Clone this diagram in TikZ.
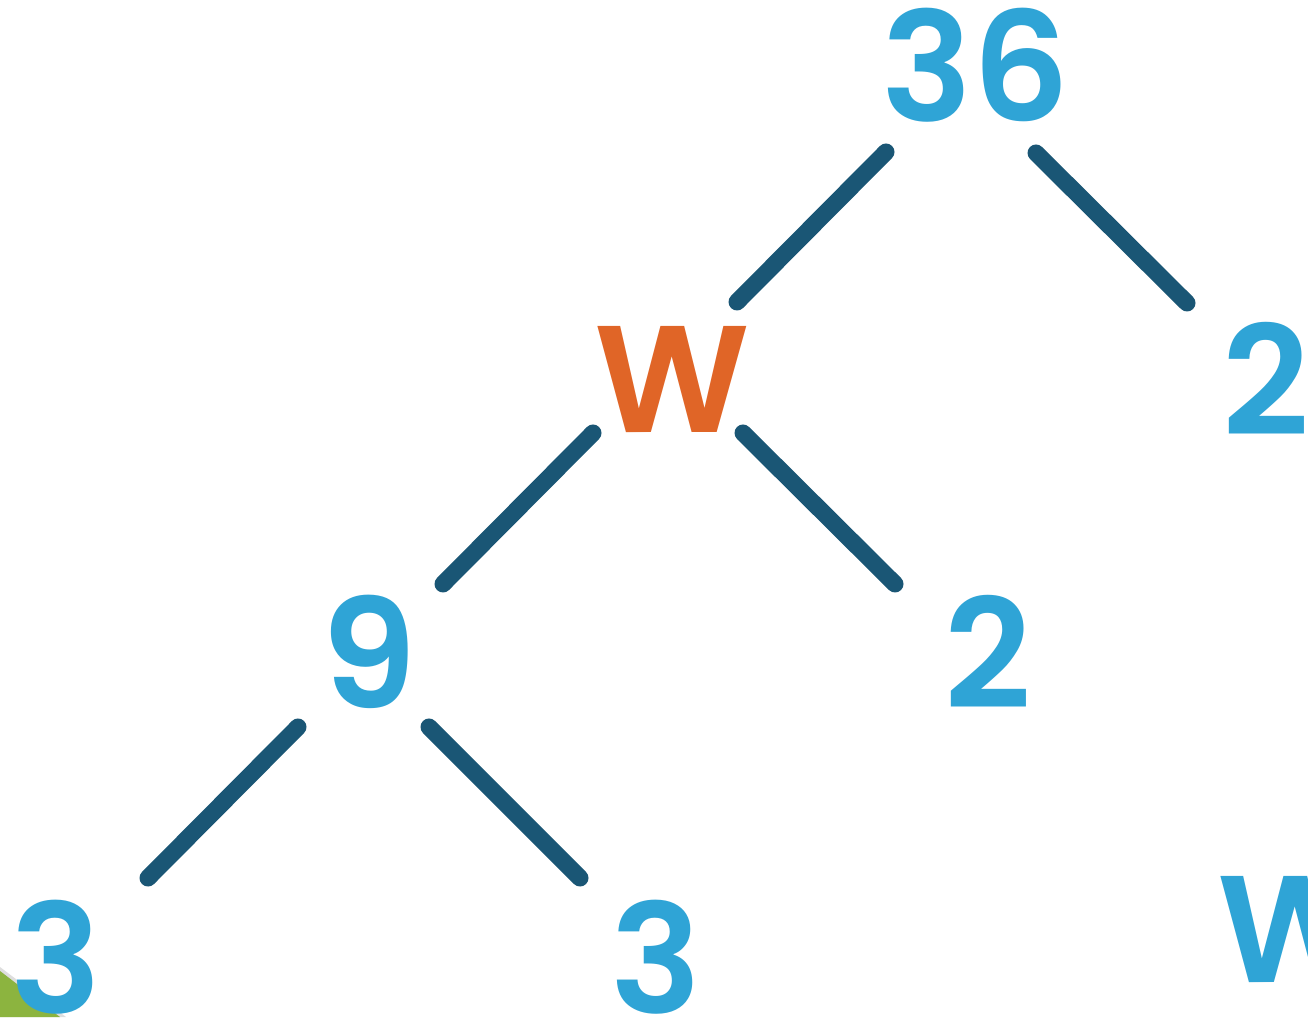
\documentclass[tikz,border=0pt]{standalone}
\usepackage{fontspec}
\setmainfont{Poppins}[BoldFont={Poppins SemiBold}]
\usetikzlibrary{calc}
\definecolor{numblue}{HTML}{2FA4D6}
\definecolor{worange}{HTML}{E06527}
\definecolor{edgeteal}{HTML}{1A5675}
\definecolor{ribbon}{HTML}{8CB43F}
\tikzset{
  lbl/.style={inner sep=0pt, font=\fontsize{152}{152}\selectfont\bfseries, text=numblue},
  wlbl/.style={lbl, text=worange},
  edge/.style={draw=edgeteal, line width=17pt, line cap=round}
}
\begin{document}
\begin{tikzpicture}[x=1pt,y=1pt]
\useasboundingbox (0,0) rectangle (1308,1017);
\clip (0,0) rectangle (1308,1017);
\fill[white] (0,0) rectangle (1308,1017);
% ribbon at bottom left
\fill[black!25, opacity=0.5] (0,50) -- (66,0) -- (0,0) -- cycle;
\fill[ribbon] (0,46) -- (60,0) -- (0,0) -- cycle;
% nodes
\node[lbl]  (n36) at (976,952) {36};
\node[wlbl] (nW)  at (672,637) {W};
\node[lbl]  (n2R) at (1266,638) {2};
\node[lbl]  (n9)  at (369,365) {9};
\node[lbl]  (n2M) at (988,365) {2};
\node[lbl]  (n3L) at (56,60) {3};
\node[lbl]  (n3M) at (656,60) {3};
\node[lbl]  (nWR) at (1295,87) {W};
% connectors
\draw[edge] ($(n36)+(-90,-87)$) -- ($(nW)+(65,78)$);
\draw[edge] ($(n36)+(60,-88)$) -- ($(n2R)+(-79,76)$);
\draw[edge] ($(nW)+(-79,-53)$) -- ($(n9)+(74,68)$);
\draw[edge] ($(nW)+(71,-53)$) -- ($(n2M)+(-93,68)$);
\draw[edge] ($(n9)+(-71,-75)$) -- ($(n3L)+(92,79)$);
\draw[edge] ($(n9)+(60,-75)$) -- ($(n3M)+(-76,79)$);
\end{tikzpicture}
\end{document}
